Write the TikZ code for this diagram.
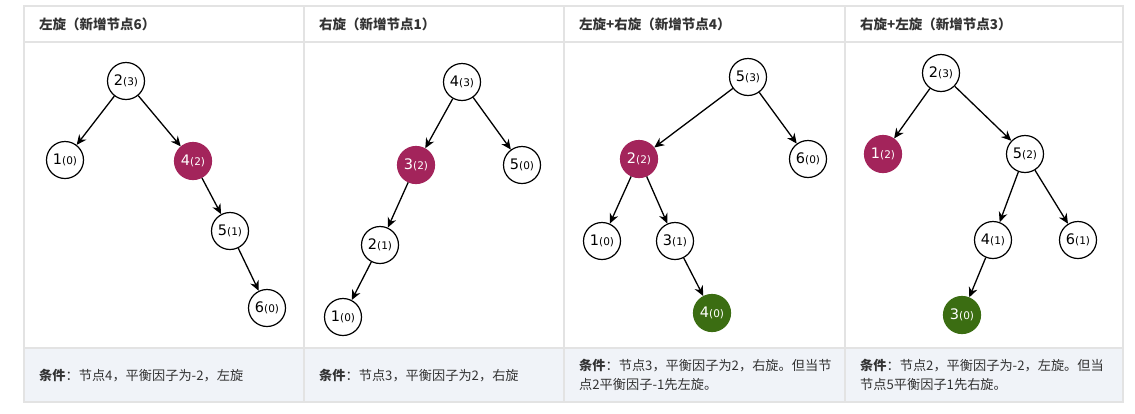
\documentclass[tikz,border=0pt]{standalone}
\usepackage{fontspec}
\setmainfont{DejaVu Sans}
\newfontfamily\cjk{Noto Sans CJK SC}
\usetikzlibrary{arrows.meta}
\definecolor{rednode}{HTML}{A3245B}
\definecolor{greennode}{HTML}{3B6D12}
\definecolor{gridline}{HTML}{E3E3E3}
\definecolor{footbg}{HTML}{F0F3F8}
\definecolor{txt}{HTML}{333333}
\newcommand\lab[2]{#1{\fontsize{10.5}{10.5}\selectfont(#2)}}
\begin{document}
\begin{tikzpicture}[x=1pt,y=-1pt,
  tnode/.style={circle,draw=black,line width=1.2pt,fill=white,minimum size=37pt,inner sep=0pt,font=\fontsize{14.5}{14.5}\selectfont},
  rnode/.style={tnode,draw=rednode,fill=rednode,text=white},
  gnode/.style={tnode,draw=greennode,fill=greennode,text=white},
  edge/.style={-{Stealth[length=10pt,width=9pt]},line width=1.3pt},
  head/.style={anchor=west,inner sep=0pt,font=\cjk\bfseries\fontsize{13.5}{15}\selectfont,text=txt},
  foot/.style={anchor=west,inner sep=0pt,align=left,font=\cjk\fontsize{13.2}{18.5}\selectfont,text=txt},
  grid/.style={draw=gridline,line width=1.2pt}]
\useasboundingbox (0,0) rectangle (1135,413);
\fill[white] (0,0) rectangle (1135,413);
\fill[footbg] (24,348) rectangle (1123,402);
\draw[grid] (24,6) rectangle (1123,402);
\draw[grid] (24,42) -- (1123,42) (24,348) -- (1123,348);
\draw[grid] (304,6) -- (304,402) (564,6) -- (564,402) (845,6) -- (845,402);

% headers
\node[head] (h1) at (39,24) {左旋（新增节点6）};
\node[head] (h2) at (319,24) {右旋（新增节点1）};
\node[head] (h3) at (579,24) {左旋+右旋（新增节点4）};
\node[head] (h4) at (860,24) {右旋+左旋（新增节点3）};

% footers
\node[foot] (f1) at (39,376) {{\bfseries 条件}：节点4，平衡因子为-2，左旋};
\node[foot] (f2) at (319,376) {{\bfseries 条件}：节点3，平衡因子为2，右旋};
\node[foot] (f3) at (579,375) {{\bfseries 条件}：节点3，平衡因子为2，右旋。但当节\\点2平衡因子-1先左旋。};
\node[foot] (f4) at (860,375) {{\bfseries 条件}：节点2，平衡因子为-2，左旋。但当\\节点5平衡因子1先右旋。};

% tree 1
\node[tnode] (a2) at (126,81) {\lab{2}{3}};
\node[tnode] (a1) at (65,160) {\lab{1}{0}};
\node[rnode] (a4) at (193,161) {\lab{4}{2}};
\node[tnode] (a5) at (230,231) {\lab{5}{1}};
\node[tnode] (a6) at (267,308) {\lab{6}{0}};
\draw[edge] (a2) -- (a1);
\draw[edge] (a2) -- (a4);
\draw[edge] (a4) -- (a5);
\draw[edge] (a5) -- (a6);

% tree 2
\node[tnode] (b4) at (462,82) {\lab{4}{3}};
\node[rnode] (b3) at (416,165) {\lab{3}{2}};
\node[tnode] (b5) at (522,165) {\lab{5}{0}};
\node[tnode] (b2) at (380,245) {\lab{2}{1}};
\node[tnode] (b1) at (343,317) {\lab{1}{0}};
\draw[edge] (b4) -- (b3);
\draw[edge] (b4) -- (b5);
\draw[edge] (b3) -- (b2);
\draw[edge] (b2) -- (b1);

% tree 3
\node[tnode] (c5) at (748,77) {\lab{5}{3}};
\node[rnode] (c2) at (639,159) {\lab{2}{2}};
\node[tnode] (c6) at (808,159) {\lab{6}{0}};
\node[tnode] (c1) at (602,241) {\lab{1}{0}};
\node[tnode] (c3) at (675,241) {\lab{3}{1}};
\node[gnode] (c4) at (712,313) {\lab{4}{0}};
\draw[edge] (c5) -- (c2);
\draw[edge] (c5) -- (c6);
\draw[edge] (c2) -- (c1);
\draw[edge] (c2) -- (c3);
\draw[edge] (c3) -- (c4);

% tree 4
\node[tnode] (d2) at (941,73) {\lab{2}{3}};
\node[rnode] (d1) at (883,154) {\lab{1}{2}};
\node[tnode] (d5) at (1025,154) {\lab{5}{2}};
\node[tnode] (d4) at (993,240) {\lab{4}{1}};
\node[tnode] (d6) at (1078,240) {\lab{6}{1}};
\node[gnode] (d3) at (962,315) {\lab{3}{0}};
\draw[edge] (d2) -- (d1);
\draw[edge] (d2) -- (d5);
\draw[edge] (d5) -- (d4);
\draw[edge] (d5) -- (d6);
\draw[edge] (d4) -- (d3);
\end{tikzpicture}
\end{document}
